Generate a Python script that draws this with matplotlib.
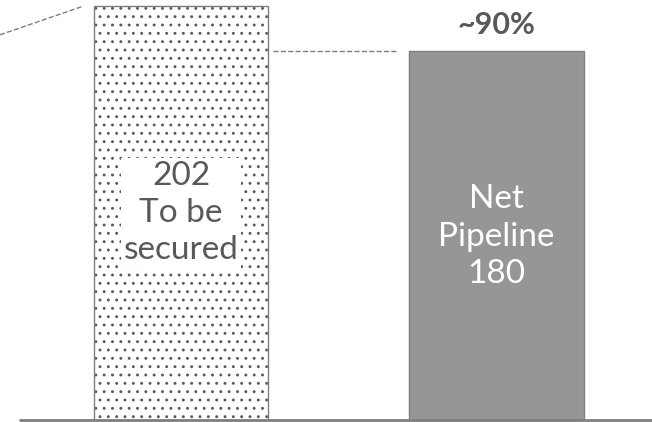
import matplotlib.pyplot as plt
import numpy as np

plt.rcParams['font.family'] = ['Lato', 'DejaVu Sans']
plt.rcParams['hatch.linewidth'] = 0.9

values = [202, 180]
bar_labels = ["202\nTo be\nsecured", "Net\nPipeline\n180"]
share_label = "~90%"
lead_in = [188, 202]   # connector coming in from the previous step

gray_dark = '#595959'
gray_edge = '#7f7f7f'
gray_fill = '#969696'

fig = plt.figure(figsize=(6.52, 4.22), dpi=100)
ax = fig.add_axes([0, 0, 1, 1])

x = np.arange(len(values))
width = 0.552

# dotted "to be secured" bar: hatch layer first, then the outline
ax.bar(x[0], values[0], width, facecolor='white', edgecolor=gray_dark,
       hatch='..', linewidth=0)
ax.bar(x[0], values[0], width, facecolor='none', edgecolor=gray_edge,
       linewidth=1.0)
ax.bar(x[1], values[1], width, facecolor=gray_fill, edgecolor=gray_edge,
       linewidth=1.0)

ax.text(x[0], values[0] * 0.5, bar_labels[0], ha='center', va='center',
        fontsize=24, color=gray_dark, linespacing=1.3,
        bbox=dict(facecolor='white', edgecolor='none', pad=2))
ax.text(x[1], values[1] * 0.5 - 0.5, bar_labels[1], ha='center', va='center',
        fontsize=24, color='white', linespacing=1.3)
ax.text(x[1], values[1] + 13, share_label, ha='center', va='center',
        fontsize=22, fontweight='bold', color=gray_dark)

# dashed connectors
ax.plot([-0.574, -0.31], lead_in, ls='--', color=gray_edge, lw=1.0)
ax.plot([x[0] + width / 2 + 0.015, x[1] - width / 2 - 0.035],
        [values[1], values[1]], ls='--', color=gray_edge, lw=1.0)

# baseline
ax.plot([-0.513, 1.493], [0, 0], color=gray_edge, lw=2.0, solid_capstyle='butt')

ax.set_xlim(-0.574, 1.493)
ax.set_ylim(-0.98, 205)
ax.axis('off')

fig.savefig('out.png', dpi=100)
